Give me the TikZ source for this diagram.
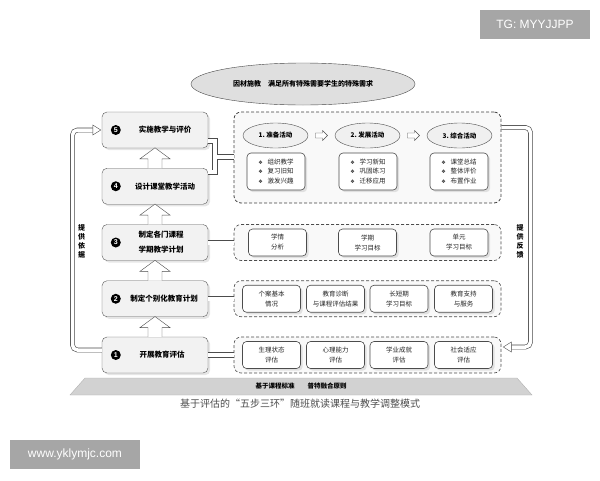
\documentclass[tikz,border=0pt]{standalone}
\usepackage{fontspec}
\newfontfamily\cjk{Noto Sans CJK SC}
\newfontfamily\dejavu{DejaVu Sans}
\setsansfont{Liberation Sans}
\usetikzlibrary{positioning}
\usetikzlibrary{calc}
\usetikzlibrary{shapes.geometric}
\usetikzlibrary{shadows}
\newcommand{\diabullet}{{\dejavu\fontsize{5}{9.5}\selectfont ❖}\hspace{5pt}}

\begin{document}
\begin{tikzpicture}[x=1pt,y=-1pt,
  every node/.style={font=\cjk},
  stepbox/.style={draw=gray!70!black,fill=gray!10,rounded corners=5pt,minimum width=106pt,minimum height=36pt,drop shadow={opacity=0.2}},
  steptext/.style={font=\cjk\bfseries\fontsize{7.5}{15}\selectfont,align=center},
  numdot/.style={circle,fill=black,text=white,inner sep=0pt,minimum size=10pt,font=\sffamily\bfseries\fontsize{7}{8}\selectfont},
  groupbox/.style={draw=gray!60!black,densely dashed,semithick,fill=gray!5,rounded corners=7pt,minimum width=267pt,minimum height=36pt},
  itembox/.style={draw=gray!60!black,fill=white,semithick,rounded corners=4pt,minimum width=58pt,minimum height=27pt,inner sep=1pt,align=center,text=gray!30!black,font=\cjk\fontsize{6.5}{10}\selectfont,drop shadow={opacity=0.2}},
  taskbox/.style={itembox,minimum height=37pt,align=left,font=\cjk\fontsize{6.5}{9.5}\selectfont},
  phase/.style={ellipse,draw=gray!60!black,fill=gray!12,minimum width=65pt,minimum height=25pt,inner sep=0pt,font=\cjk\bfseries\fontsize{6.5}{8}\selectfont},
  aimoval/.style={ellipse,draw=gray!55!black,fill=gray!25,minimum width=224pt,minimum height=42pt,font=\cjk\bfseries\fontsize{7}{9}\selectfont},
  hollow/.style={draw=gray!60!black,fill=white,line join=miter},
  dline/.style={draw=gray!60!black,line width=0.6pt,double=white,double distance=4pt},
  loopline/.style={draw=gray!55!black,line width=0.6pt,double=white,double distance=3.5pt,rounded corners=5pt},
  sidetext/.style={align=center,font=\cjk\bfseries\fontsize{7}{9}\selectfont},
  wmark/.style={fill=black!35,text=white,font=\sffamily\fontsize{12}{14}\selectfont}
]
\useasboundingbox (0,0) rectangle (600,480);
\coordinate (s1) at (155,355);
\coordinate (s2) at (155,298.75);
\coordinate (s3) at (155,242.5);
\coordinate (s4) at (155,186.25);
\coordinate (s5) at (155,130);
\coordinate (r1) at (367.5,355);
\coordinate (r2) at (367.5,298.75);
\coordinate (r3) at (367.5,242.5);
\coordinate (r5) at (367.5,157.5);
\coordinate (bk) at (215,157);
\coordinate (lb) at (72.5,350);
\coordinate (lt) at (72.5,130);
\coordinate (rt) at (530.5,127.5);
\coordinate (rb) at (530.5,347);

  \node (aim) at (303,84) [aimoval] {因材施教\quad 满足所有特殊需要学生的特殊需求};

  \node (gr5) at (r5) [groupbox,draw=black!75,thick,dash pattern=on 3pt off 2pt,minimum height=91pt] {};
  \node (gr3) at (r3) [groupbox] {};
  \node (gr2) at (r2) [groupbox] {};
  \node (gr1) at (r1) [groupbox] {};

  \node (st1) at (s1) [stepbox] {};
  \node (st2) at (s2) [stepbox] {};
  \node (st3) at (s3) [stepbox] {};
  \node (st4) at (s4) [stepbox] {};
  \node (st5) at (s5) [stepbox] {};
  \node (n1) at ($(st1.west)+(14,0)$) [numdot] {1};
  \node (n2) at ($(st2.west)+(14,0)$) [numdot] {2};
  \node (n3) at ($(st3.west)+(14,0)$) [numdot] {3};
  \node (n4) at ($(st4.west)+(14,0)$) [numdot] {4};
  \node (n5) at ($(st5.west)+(14,0)$) [numdot] {5};
  \node (t1) at ($(s1)+(7,0)$) [steptext] {开展教育评估};
  \node (t2) at ($(s2)+(9,0)$) [steptext] {制定个别化教育计划};
  \node (t3) at ($(s3)+(6,0)$) [steptext] {制定各门课程\\学期教学计划};
  \node (t4) at ($(s4)+(10,0)$) [steptext] {设计课堂教学活动};
  \node (t5) at ($(s5)+(10,0)$) [steptext] {实施教学与评价};

  \node (p1) at (275.5,135.5) [phase] {1.\ 准备活动};
  \node (p2) at (367.5,135.5) [phase] {2.\ 发展活动};
  \node (p3) at (459.5,135.5) [phase] {3.\ 综合活动};
  \node (k1) at (276,171.5) [taskbox] {\diabullet 组织教学\\\diabullet 复习旧知\\\diabullet 激发兴趣};
  \node (k2) at (368,171.5) [taskbox] {\diabullet 学习新知\\\diabullet 巩固练习\\\diabullet 迁移应用};
  \node (k3) at (459,171.5) [taskbox] {\diabullet 课堂总结\\\diabullet 整体评价\\\diabullet 布置作业};

  \node (a31) at (277.5,242.5) [itembox] {学情\\分析};
  \node (a32) at (367.5,242.5) [itembox] {学期\\学习目标};
  \node (a33) at (459,242.5) [itembox] {单元\\学习目标};
  \node (a21) at (271.5,298.75) [itembox] {个案基本\\情况};
  \node (a22) at (335.5,298.75) [itembox] {教育诊断\\与课程评估结果};
  \node (a23) at (399,298.75) [itembox] {长短期\\学习目标};
  \node (a24) at (463.5,298.75) [itembox] {教育支持\\与服务};
  \node (a11) at (271.5,355) [itembox] {生理状态\\评估};
  \node (a12) at (335.5,355) [itembox] {心理能力\\评估};
  \node (a13) at (399,355) [itembox] {学业成就\\评估};
  \node (a14) at (463.5,355) [itembox] {社会适应\\评估};

  \draw[dline] (st1) -- (gr1);
  \draw[dline] (st2) -- (gr2);
  \draw[dline] (st3) -- (gr3);
  \draw[dline] ([yshift=-11pt]st5.east) -| (bk) |- ([yshift=14pt]st4.east) (bk) -- (bk -| gr5.west);

  \draw[hollow] (st1.north) ++(-7,0) -- ++(0,-9.25) -- ++(-8,0) -- ++(15,-11) -- ++(15,11) -- ++(-8,0) -- ++(0,9.25);
  \draw[hollow] (st2.north) ++(-7,0) -- ++(0,-9.25) -- ++(-8,0) -- ++(15,-11) -- ++(15,11) -- ++(-8,0) -- ++(0,9.25);
  \draw[hollow] (st3.north) ++(-7,0) -- ++(0,-9.25) -- ++(-8,0) -- ++(15,-11) -- ++(15,11) -- ++(-8,0) -- ++(0,9.25);
  \draw[hollow] (st4.north) ++(-7,0) -- ++(0,-9.25) -- ++(-8,0) -- ++(15,-11) -- ++(15,11) -- ++(-8,0) -- ++(0,9.25);
  \draw[hollow] ($(p1.east)!0.5!(p2.west)$) ++(-6,-2.5) -- ++(7,0) -- ++(0,-2.5) -- ++(5,5) -- ++(-5,5) -- ++(0,-2.5) -- ++(-7,0) -- cycle;
  \draw[hollow] ($(p2.east)!0.5!(p3.west)$) ++(-6,-2.5) -- ++(7,0) -- ++(0,-2.5) -- ++(5,5) -- ++(-5,5) -- ++(0,-2.5) -- ++(-7,0) -- cycle;

  \draw[loopline] ([yshift=5pt]st1.west) -- (lb) -- (lt) -- ([xshift=-9pt]st5.west);
  \draw[hollow] ([xshift=-1pt]st5.west) -- ++(-8,-5) -- ++(0,10) -- cycle;
  \draw[loopline] ([yshift=30pt]gr5.east) -- (rt) -- (rb) -- ([xshift=10pt,yshift=8pt]gr1.east);
  \draw[hollow] ([xshift=2pt,yshift=8pt]gr1.east) -- ++(8,-5) -- ++(0,10) -- cycle;
  %\draw[dline] (st4) -- (gr5);
  \node (lbl) at (81.5,241) [sidetext] {提\\供\\依\\据};
  \node (rbl) at (520,241) [sidetext] {提\\供\\反\\馈};

  \draw[draw=gray!60,fill=gray!35] (70,395) -- (85,378) -- (517,378) -- (532,395) -- cycle;
  \node (base) at (301,386.5) [font=\cjk\bfseries\fontsize{6.5}{8}\selectfont] {基于课程标准\qquad 普特融合原则};
  \node (cap) at (300,403.5) [text=gray!60!black,font=\cjk\fontsize{10}{12}\selectfont] {基于评估的“五步三环”随班就读课程与教学调整模式};

  \node (tg) at (535,24.5) [wmark,minimum width=110pt,minimum height=29pt] {TG: MYYJJPP};
  \node (site) at (75,454.5) [wmark,minimum width=130pt,minimum height=29pt] {www.yklymjc.com};
\end{tikzpicture}
\end{document}
